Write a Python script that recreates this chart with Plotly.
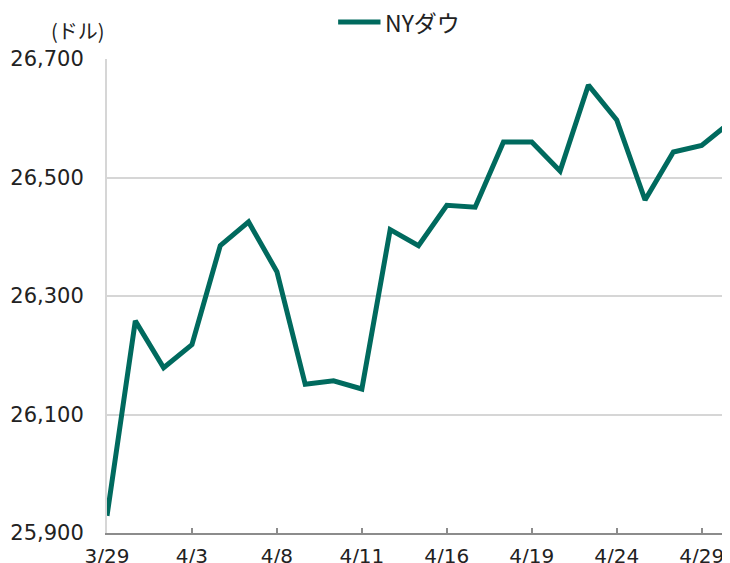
import plotly.graph_objects as go

dates = ["3/29", "4/1", "4/2", "4/3", "4/4", "4/5", "4/8", "4/9", "4/10", "4/11",
         "4/12", "4/15", "4/16", "4/17", "4/18", "4/19", "4/22", "4/23", "4/24",
         "4/25", "4/26", "4/29", "4/30"]
nydow = [25929, 26258, 26179, 26218, 26385, 26425, 26341, 26151, 26157, 26143,
         26412, 26385, 26453, 26450, 26560, 26560, 26511, 26656, 26597,
         26462, 26543, 26554, 26593]
tick_labels = dates[::3]
y_ticks = [25900, 26100, 26300, 26500, 26700]
series_name = "NYダウ"
unit_label = "(ドル)"

COLOR = "#006A5E"
FONT = "DejaVu Sans, Noto Sans CJK JP"
JFONT = "Noto Sans CJK JP"
fig = go.Figure()
fig.add_trace(go.Scatter(
    x=dates, y=nydow, mode="lines", name=series_name,
    line=dict(color=COLOR, width=5),
))
fig.update_layout(
    width=722, height=555,
    margin=dict(l=99, r=0, t=51, b=30, autoexpand=False),
    paper_bgcolor="white", plot_bgcolor="white",
    font=dict(family=FONT, size=20, color="#222222"),
    showlegend=False,
    xaxis=dict(type="category", range=[0, len(dates) - 1], automargin=False,
               tickvals=tick_labels, ticktext=tick_labels,
               showgrid=False, showline=True, linecolor="#8C8C8C", linewidth=2,
               ticks="inside", ticklen=5, tickcolor="#8C8C8C", tickwidth=2,
               tickfont=dict(size=20), zeroline=False, ticklabelstandoff=4),
    yaxis=dict(range=[25900, 26700], tickvals=y_ticks, automargin=False,
               tickformat=",d", showgrid=True, gridcolor="#D6D6D6", gridwidth=2,
               showline=True, linecolor="#D6D6D6", linewidth=2,
               ticks="", tickfont=dict(size=21), zeroline=False, ticklabelstandoff=17),
    shapes=[dict(type="line", xref="paper", yref="paper",
                 x0=0.371, x1=0.439, y0=1.078, y1=1.078,
                 line=dict(color=COLOR, width=5))],
    annotations=[
        dict(text=unit_label, xref="paper", yref="paper", x=-0.047, y=1.061,
             xanchor="center", yanchor="middle", showarrow=False,
             font=dict(size=20, family=JFONT)),
        dict(text=series_name, xref="paper", yref="paper", x=0.443, y=1.078,
             xanchor="left", yanchor="middle", showarrow=False,
             font=dict(size=23, family=JFONT)),
    ],
)
fig.write_html("out.html")
